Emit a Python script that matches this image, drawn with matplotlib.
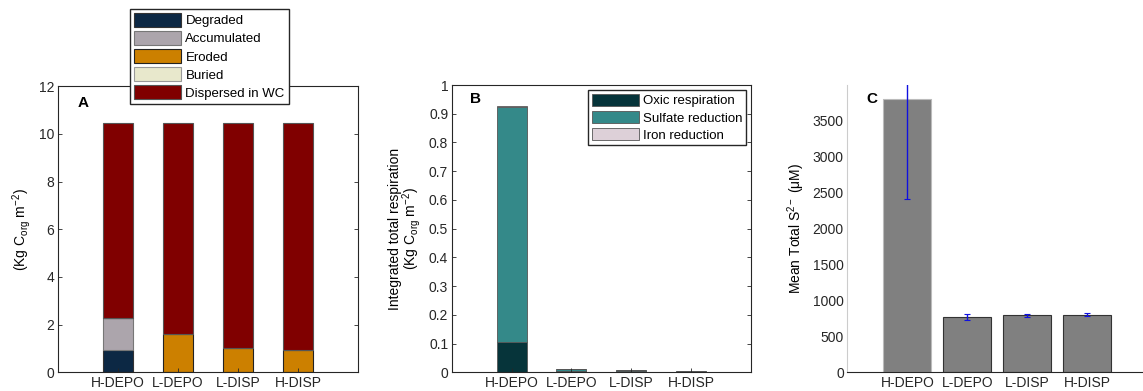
import numpy as np
import matplotlib
matplotlib.use("Agg")
import matplotlib.pyplot as plt

plt.rcParams['font.family'] = ['Liberation Sans', 'DejaVu Sans']
plt.rcParams['mathtext.fontset'] = 'custom'
plt.rcParams['mathtext.rm'] = 'Liberation Sans'
plt.rcParams['mathtext.it'] = 'Liberation Sans'

# ---------------------------------------------------------
#   DATA
# ---------------------------------------------------------
scenarios = ["H-DEPO", "L-DEPO", "L-DISP", "H-DISP"]

# panel A (Kg Corg m-2)
degraded = [0.92, 0.03, 0.0, 0.0]
accumulated = [1.34, 0.0, 0.0, 0.0]
eroded = [0.0, 1.56, 1.03, 0.93]
buried = [0.0, 0.0, 0.0, 0.0]
dispersed = [8.20, 8.87, 9.43, 9.53]

# panel B (Kg Corg m-2)
oxic = [0.105, 0.004, 0.003, 0.002]
sulfate = [0.820, 0.008, 0.004, 0.003]
iron = [0.001, 0.001, 0.0005, 0.0005]

# panel C (uM)
sulfide_mean = [3790, 765, 790, 800]
sulfide_err = [1390, 40, 20, 22]

# ---------------------------------------------------------
#   STYLE
# ---------------------------------------------------------
A_colors = ["#0c2844", "#aca5ac", "#cc8000", "#e8e8cc", "#800000"]
A_edges = ["#333333", "#777777", "#222222", "#999999", "#555555"]
A_labels = ["Degraded", "Accumulated", "Eroded", "Buried", "Dispersed in WC"]
B_colors = ["#06343a", "#348989", "#ddd0d8"]
B_labels = ["Oxic respiration", "Sulfate reduction", "Iron reduction"]

FS = 10
LFS = 9.5
x = np.arange(1, len(scenarios) + 1)

fig = plt.figure(figsize=(11.43, 3.91), dpi=100)
axA = fig.add_axes([0.0507, 0.0478, 0.2625, 0.732])
axB = fig.add_axes([0.3952, 0.0478, 0.2619, 0.7348])
axC = fig.add_axes([0.7413, 0.0478, 0.2625, 0.7348])


def style_axis(ax, box=True):
    for s in ax.spines.values():
        s.set_linewidth(0.8)
        s.set_color("#262626")
    if not box:
        ax.spines["top"].set_visible(False)
        ax.spines["right"].set_visible(False)
    ax.tick_params(direction="in", length=3, width=0.6, labelsize=FS,
                   top=False, right=box, colors="#262626", pad=2.5)
    ax.set_xticks(x)
    ax.set_xticklabels(scenarios, fontsize=FS)
    ax.set_xlim(0, 5)


# ---------------------------------------------------------
#   PANEL A
# ---------------------------------------------------------
bottom = np.zeros(len(scenarios))
handles = []
for vals, c, ec, lab in zip([degraded, accumulated, eroded, buried, dispersed],
                            A_colors, A_edges, A_labels):
    h = axA.bar(x, vals, 0.5, bottom=bottom, color=c, edgecolor=ec,
                linewidth=0.8, label=lab)
    handles.append(h)
    bottom += np.array(vals)
style_axis(axA)
axA.set_ylim(0, 12)
axA.set_yticks(range(0, 13, 2))
axA.set_ylabel("(Kg C$_{org}$ m$^{-2}$)", fontsize=FS)
axA.text(0.33, 11.3, "A", fontsize=FS + 1, fontweight="bold", va="center")
fig.legend(handles=handles, loc="upper left", bbox_to_anchor=(0.1137, 0.977),
           bbox_transform=fig.transFigure, borderaxespad=0, fontsize=LFS,
           fancybox=False, edgecolor="#262626", framealpha=1,
           handlelength=3.6, handleheight=1.25, labelspacing=0.28,
           handletextpad=0.3, borderpad=0.3)

# ---------------------------------------------------------
#   PANEL B
# ---------------------------------------------------------
bottom = np.zeros(len(scenarios))
handles = []
for vals, c, lab in zip([oxic, sulfate, iron], B_colors, B_labels):
    h = axB.bar(x, vals, 0.5, bottom=bottom, color=c, edgecolor="#555555",
                linewidth=0.6, label=lab)
    handles.append(h)
    bottom += np.array(vals)
style_axis(axB)
axB.set_ylim(0, 1)
axB.set_yticks(np.arange(0, 1.01, 0.1))
axB.set_yticklabels(["0"] + [f"{v:.1f}" for v in np.arange(0.1, 0.95, 0.1)] + ["1"])
axB.set_ylabel("Integrated total respiration\n(Kg C$_{org}$ m$^{-2}$)",
               fontsize=FS, linespacing=0.9)
axB.text(0.31, 0.95, "B", fontsize=FS + 1, fontweight="bold", va="center")
axB.legend(handles=handles, loc="upper right", fontsize=LFS, fancybox=False,
           edgecolor="#262626", framealpha=1, handlelength=3.6,
           handleheight=1.1, labelspacing=0.25, handletextpad=0.3,
           borderpad=0.25, borderaxespad=0.4)

# ---------------------------------------------------------
#   PANEL C
# ---------------------------------------------------------
bars = axC.bar(x, sulfide_mean, 0.8, color="#808080",
               edgecolor=["#bbbbbb", "#333333", "#333333", "#333333"],
               linewidth=0.8)
axC.errorbar(x, sulfide_mean, yerr=sulfide_err, fmt="none", ecolor="#1010e0",
             elinewidth=1.0, capsize=2.5, capthick=0.8)
style_axis(axC, box=False)
axC.tick_params(length=0)
axC.spines["left"].set_color("#cccccc")
axC.set_ylim(0, 3990)
axC.set_yticks(range(0, 3501, 500))
axC.set_ylabel("Mean Total S$^{2-}$ ($\\mu$M)", fontsize=FS)
axC.text(0.32, 3800, "C", fontsize=FS + 1, fontweight="bold", va="center")

fig.savefig("out.png", dpi=100)
